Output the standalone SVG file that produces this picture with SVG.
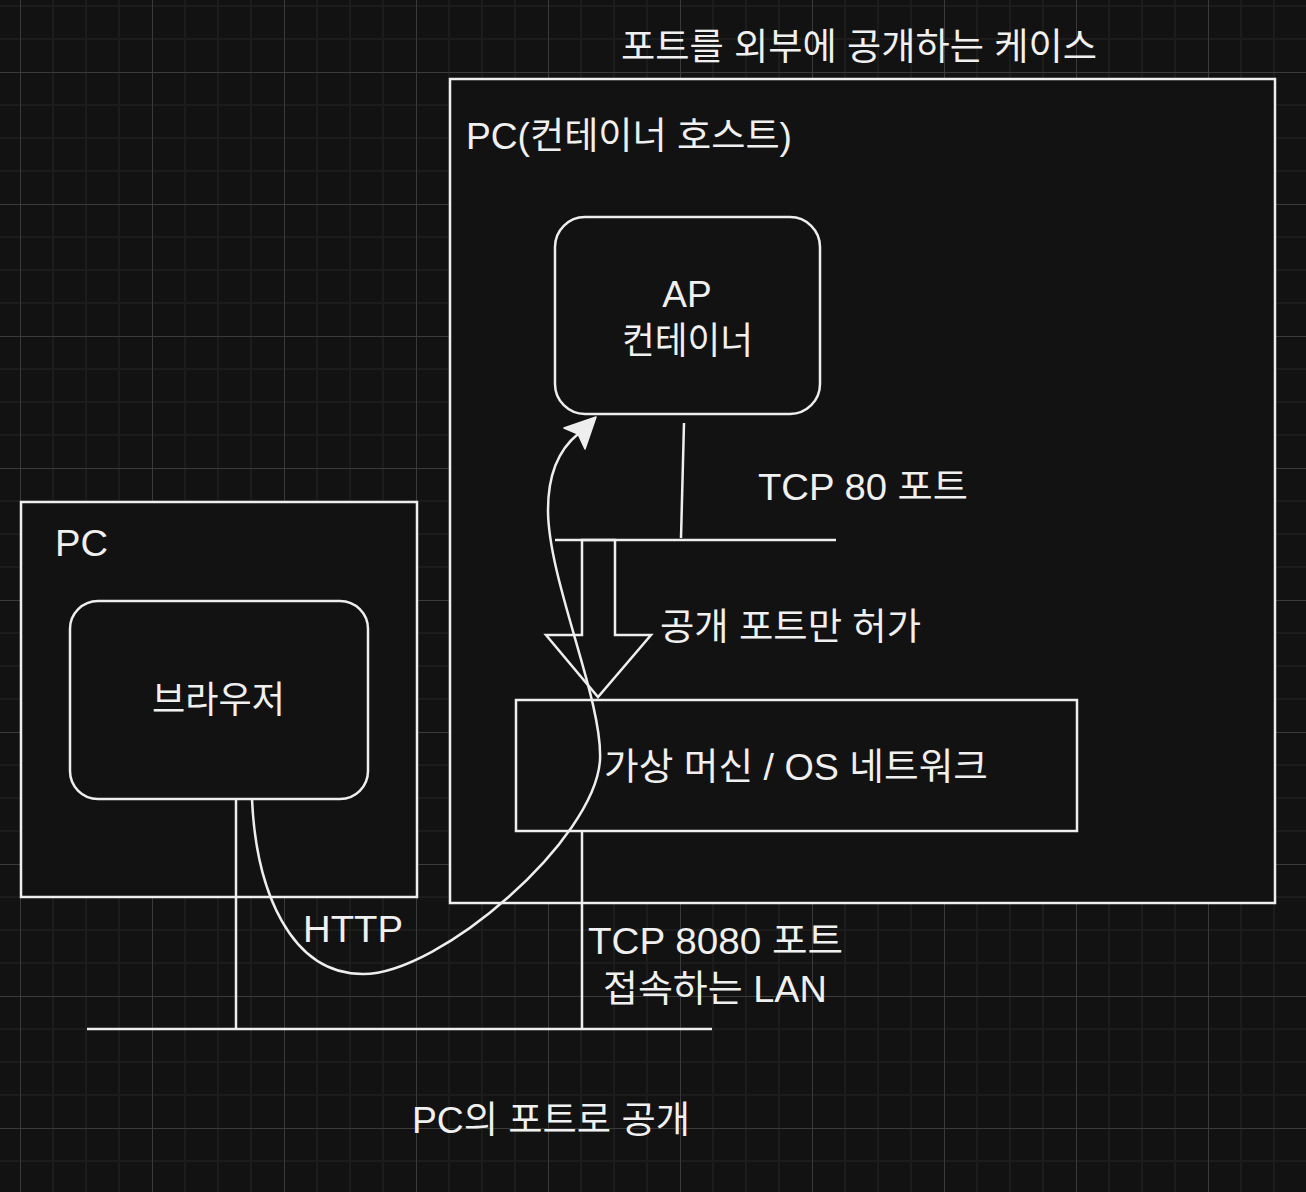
<svg xmlns="http://www.w3.org/2000/svg" width="1306" height="1192" viewBox="0 0 1306 1192">
  <defs>
    <pattern id="grid" x="20" y="72" width="132" height="132" patternUnits="userSpaceOnUse">
      <rect width="132" height="132" fill="#121212"/>
      <path d="M33 0V132M66 0V132M99 0V132M0 33H132M0 66H132M0 99H132" stroke="#1c1c1c" stroke-width="2" fill="none"/>
      <path d="M0.5 0V132M0 0.5H132" stroke="#3a3a3a" stroke-width="1" fill="none"/>
    </pattern>
    <style>
      .box{fill:#121212;stroke:#eeeeee;stroke-width:2.5}
      .ln{fill:none;stroke:#eeeeee;stroke-width:2.5}
      .t{font-family:"Liberation Sans","Noto Sans CJK KR",sans-serif;font-size:37px;fill:#f0f0f0}
      .c{text-anchor:middle}
    </style>
  </defs>
  <rect width="1306" height="1192" fill="url(#grid)"/>

  <text class="t" x="621" y="60" textLength="476" lengthAdjust="spacingAndGlyphs">포트를 외부에 공개하는 케이스</text>

  <g id="host-pc">
    <rect class="box" x="450" y="79" width="825" height="824"/>
    <text class="t" x="466" y="149" textLength="326" lengthAdjust="spacingAndGlyphs">PC(컨테이너 호스트)</text>
  </g>

  <g id="client-pc">
    <rect class="box" x="21" y="502" width="396" height="395"/>
    <text class="t" x="55" y="556" textLength="53" lengthAdjust="spacingAndGlyphs">PC</text>
  </g>

  <g id="browser">
    <rect class="box" x="70" y="601" width="298" height="198" rx="28" ry="28"/>
    <text class="t" x="152" y="713" textLength="133" lengthAdjust="spacingAndGlyphs">브라우저</text>
  </g>

  <g id="ap-container">
    <rect class="box" x="555" y="217" width="265" height="197" rx="30" ry="30"/>
    <text class="t c" x="687" y="307">AP</text>
    <text class="t" x="622" y="354" textLength="131" lengthAdjust="spacingAndGlyphs">컨테이너</text>
  </g>

  <g id="vm-network">
    <rect class="box" x="516" y="700" width="561" height="131"/>
    <text class="t" x="604" y="780" textLength="384" lengthAdjust="spacingAndGlyphs">가상 머신 / OS 네트워크</text>
  </g>

  <g id="connectors">
    <line class="ln" x1="684" y1="423" x2="681" y2="538"/>
    <line class="ln" x1="555" y1="540" x2="836" y2="540"/>
    <polygon class="ln" points="582,540 615,540 615,635 651,635 598,697 546,635 582,635"/>
    <line class="ln" x1="236" y1="799" x2="236" y2="1029"/>
    <line class="ln" x1="582" y1="831" x2="582" y2="1029"/>
    <line class="ln" x1="87" y1="1029" x2="712" y2="1029"/>
    <path class="ln" d="M252 799 C256 890 290 974 363 974 C440 974 595 840 600 760 C603 700 548 580 548 510 C548 470 562 447 578 434"/>
    <polygon points="596,417 564,428 578,434 585,449" fill="#eeeeee" stroke="#eeeeee" stroke-width="1.5" stroke-linejoin="round"/>
  </g>

  <g id="labels">
    <text class="t" x="758" y="500" textLength="210" lengthAdjust="spacingAndGlyphs">TCP 80 포트</text>
    <text class="t" x="660" y="640" textLength="261" lengthAdjust="spacingAndGlyphs">공개 포트만 허가</text>
    <text class="t" x="303" y="942" textLength="100" lengthAdjust="spacingAndGlyphs">HTTP</text>
    <text class="t" x="588" y="954" textLength="255" lengthAdjust="spacingAndGlyphs">TCP 8080 포트</text>
    <text class="t" x="603" y="1002" textLength="224" lengthAdjust="spacingAndGlyphs">접속하는 LAN</text>
    <text class="t" x="412" y="1133" textLength="278" lengthAdjust="spacingAndGlyphs">PC의 포트로 공개</text>
  </g>
</svg>
